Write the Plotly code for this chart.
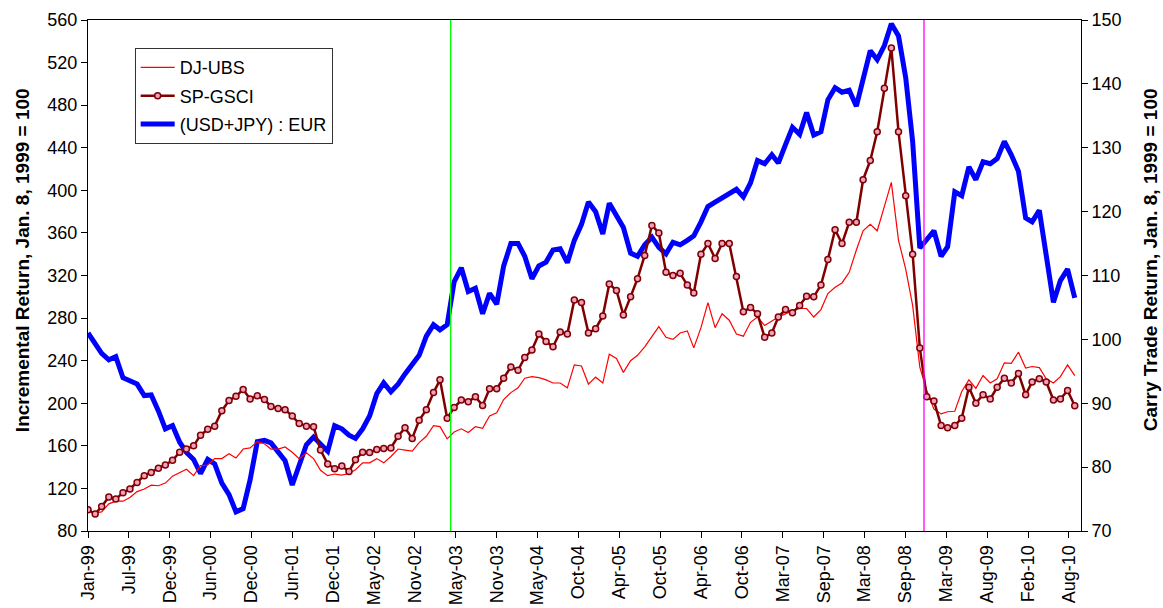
import pandas as pd
import plotly.graph_objects as go

START = "1999-01-08"
END_RANGE = "2010-10-05"

# monthly readings (8th of each month, Jan 1999 .. Sep 2010)
dj_ubs = [
    100, 97, 98, 105.5, 108, 108, 111.5, 117, 119.5, 123, 122.5, 125,
    131.5, 134.5, 138, 132, 141.5, 142, 148, 148, 152.5, 148.5, 157, 158,
    164, 162, 157, 157, 159, 154, 148, 153.4, 148, 137, 132, 133.5,
    132.5, 134, 137.5, 144, 144, 148, 144, 150, 157, 156, 155, 163,
    169, 179, 178, 166.6, 173, 176, 172.5, 178, 176.5, 188, 191, 203.5,
    210, 214.5, 223.5, 225, 224, 222, 219, 219, 214.5, 236, 235, 218,
    224.5, 219, 246, 242, 229, 240, 245, 253, 263, 272, 262, 260,
    266, 268, 252, 271, 294.6, 271, 284, 278, 265, 263, 276, 281,
    273, 277, 281, 284, 287, 289, 289, 281, 288, 303, 309, 313,
    323, 344, 362, 368, 362, 385, 407.5, 353, 326, 292, 234, 212,
    194.5, 190, 192, 192.5, 211, 222, 214, 226, 219, 223, 238, 237.5,
    248, 233, 234.5, 233.5, 223, 219, 225, 236, 226,
]
sp_gsci = [
    100, 96, 103, 112, 110, 116, 119.5, 125.5, 132, 135, 139, 142,
    146.5, 154, 157, 160, 170, 175.5, 178.5, 193, 202.5, 206.5, 213, 204,
    207, 203.5, 197, 195, 194, 188, 181, 178.5, 178, 156, 143, 138.5,
    141, 136, 147, 154, 153.8, 156.5, 157.5, 158, 169, 177, 167, 184,
    194, 210, 222, 186, 196, 203, 201.5, 206, 198, 213.6, 213.6, 223.5,
    234, 231, 243, 250, 265, 258, 253, 267, 265, 297, 294.6, 266,
    270, 282, 312, 306, 283, 300, 317, 338.8, 367, 360, 323, 320,
    322, 311, 303.5, 340, 350, 336, 350, 350, 319, 286, 290, 284,
    262, 266, 281, 288, 285, 291.8, 300.5, 300, 311, 335, 363, 350,
    370, 370, 410, 428, 455, 496, 533.6, 455, 395, 340, 252, 206,
    202, 179, 177, 179, 186, 215, 200, 208, 204, 215, 223.5, 219,
    228, 208, 220, 223, 220, 203, 204, 212, 197.6,
]
carry_trade = [
    101, 99.3, 97.8, 96.8, 97.3, 94, 93.6, 93, 91.2, 91.3, 88.8, 86,
    86.5, 83.9, 82.3, 81.2, 79, 81.2, 80.5, 77.5, 75.7, 73, 73.5, 78,
    84, 84.2, 83.8, 82.4, 81, 77.2, 80.5, 83.5, 84.7, 83.6, 82.5, 86.5,
    86, 85, 84.5, 86, 88, 91.5, 93.2, 91.8, 93, 94.6, 96, 97.5,
    100.5, 102.3, 101.5, 102.3, 109, 111.2, 107.5, 108, 104, 107.2, 105.5, 111.5,
    115, 115, 113, 109.5, 111.5, 112.1, 114, 114.2, 112, 115.5, 118, 121.5,
    120, 116.5, 121.3, 119.2, 117.5, 113.5, 113, 114.8, 116, 114.4, 113.4, 115.2,
    114.8, 115.5, 116.2, 118.4, 120.8, 121.5, 122.2, 123, 123.5, 122.3, 124.5, 128,
    127.5, 128.9, 127.6, 130.5, 133.2, 132.1, 135.5, 132, 132.5, 137.5, 139.4, 138.7,
    139, 136.5, 141, 145.2, 143.8, 146, 149.4, 147.5, 141, 131, 114.3, 115.5,
    117, 113, 114.5, 123.1, 122.5, 127, 125, 127.8, 127.5, 128.3, 131, 128.9,
    126.3, 119, 118.4, 120.2, 113, 105.8, 109.2, 111, 106.5,
]
dates = pd.date_range(START, periods=len(dj_ubs), freq=pd.DateOffset(months=1))

tick_labels = [
    "Jan-99", "Jul-99", "Dec-99", "Jun-00", "Dec-00", "Jun-01", "Dec-01",
    "May-02", "Nov-02", "May-03", "Nov-03", "May-04", "Oct-04", "Apr-05",
    "Oct-05", "Apr-06", "Oct-06", "Mar-07", "Sep-07", "Mar-08", "Sep-08",
    "Mar-09", "Aug-09", "Feb-10", "Aug-10",
]
TICK_STEP_DAYS = 176.5
tick_vals = [pd.Timestamp(START) + pd.Timedelta(days=TICK_STEP_DAYS * i)
             for i in range(len(tick_labels))]

green_date = "2003-04-23"
magenta_date = "2008-11-26"

FONT = "Liberation Sans, Arial, sans-serif"
TICK_SIZE = 18

fig = go.Figure()
# carry trade on base axis (right side) so commodity lines draw above it
fig.add_trace(go.Scatter(
    x=dates, y=carry_trade, name="(USD+JPY) : EUR", mode="lines",
    line=dict(color="#0000ff", width=5), yaxis="y", legendrank=3,
    legendgroup="c",
))
fig.add_trace(go.Scatter(
    x=dates, y=dj_ubs, name="DJ-UBS", mode="lines",
    line=dict(color="#ff0000", width=1.2), yaxis="y2", legendrank=1,
    legendgroup="a",
))
fig.add_trace(go.Scatter(
    x=dates, y=sp_gsci, name="SP-GSCI", mode="lines+markers",
    line=dict(color="#800000", width=2.5),
    marker=dict(symbol="circle", size=6, color="#f0a0c0",
                line=dict(color="#800000", width=1.5)),
    yaxis="y2", legendrank=2, legendgroup="b",
))

fig.add_shape(type="line", xref="x", yref="paper", x0=green_date, x1=green_date,
              y0=0, y1=1, line=dict(color="#00ff00", width=1.3))
fig.add_shape(type="line", xref="x", yref="paper", x0=magenta_date, x1=magenta_date,
              y0=0, y1=1, line=dict(color="#ff00ff", width=1.3))

fig.update_layout(
    width=1163, height=608,
    margin=dict(l=88, r=82, t=20, b=77),
    paper_bgcolor="white", plot_bgcolor="white",
    font=dict(family=FONT, size=TICK_SIZE, color="black"),
    showlegend=True,
    legend=dict(
        x=0.047, y=0.945, xanchor="left", yanchor="top",
        bgcolor="white", bordercolor="#333333", borderwidth=1,
        font=dict(family=FONT, size=18), tracegroupgap=2,
        itemwidth=34,
    ),
    xaxis=dict(
        type="date", range=[START, END_RANGE], automargin=False,
        tickmode="array", tickvals=tick_vals, ticktext=tick_labels,
        tickangle=-90, ticks="outside", ticklen=6, tickcolor="black",
        showline=True, linecolor="black", linewidth=1, mirror=True,
        showgrid=False, zeroline=False,
        tickfont=dict(family=FONT, size=TICK_SIZE),
    ),
    yaxis=dict(
        side="right", range=[70, 150], dtick=10, tick0=70, automargin=False,
        ticks="outside", ticklen=6, tickcolor="black",
        showline=True, linecolor="black", linewidth=1,
        showgrid=False, zeroline=False,
        tickfont=dict(family=FONT, size=TICK_SIZE),
    ),
    yaxis2=dict(
        side="left", overlaying="y", range=[80, 560], dtick=40, tick0=80,
        automargin=False,
        ticks="outside", ticklen=6, tickcolor="black",
        showline=True, linecolor="black", linewidth=1,
        showgrid=False, zeroline=False,
        tickfont=dict(family=FONT, size=TICK_SIZE),
    ),
    annotations=[
        dict(text="<b>Incremental Return, Jan. 8, 1999 = 100</b>",
             xref="paper", yref="paper", x=-0.0665, y=0.53,
             xanchor="center", yanchor="middle", textangle=-90,
             showarrow=False, font=dict(family=FONT, size=19)),
        dict(text="<b>Carry Trade Return, Jan. 8, 1999 = 100</b>",
             xref="paper", yref="paper", x=1.0695, y=0.53,
             xanchor="center", yanchor="middle", textangle=-90,
             showarrow=False, font=dict(family=FONT, size=19)),
    ],
)

fig.write_html("out.html")
